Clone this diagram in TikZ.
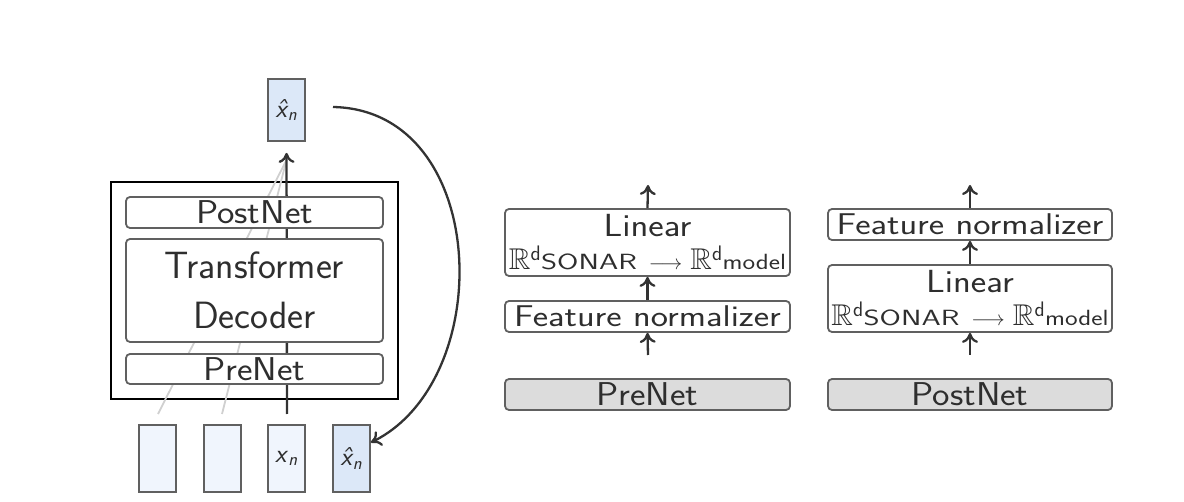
\documentclass[tikz,border=0pt]{standalone}
\usepackage{amssymb}
\usepackage{fontspec}
\usetikzlibrary{arrows.meta}
\renewcommand\familydefault{\sfdefault}
\definecolor{bordergray}{HTML}{606060}
\definecolor{textgray}{HTML}{2E2E2E}
\definecolor{arrowgray}{HTML}{333333}
\definecolor{lightblue}{HTML}{F0F5FD}
\definecolor{midblue}{HTML}{DCE8F8}
\definecolor{graybox}{HTML}{DCDCDC}
\definecolor{ghost}{HTML}{D0D0D0}
\newcommand\fs[1]{\fontsize{#1}{#1}\selectfont}
\newcommand\sx[2]{\scalebox{#1}[1]{#2}}
\newcommand\xhat{\textit{\^x}\textsubscript{\textit{n}}}
\newcommand\rline{\fs{30}$\mathbb{R}^{\mathsf{d}}$\fs{22}\sx{1.4}{SONAR}\hspace*{12pt}\fs{20}$\longrightarrow$\hspace*{8pt}\fs{30}$\mathbb{R}^{\mathsf{d}}$\fs{22}\sx{1.22}{model}}
\tikzset{
  box/.style={draw=bordergray, line width=1.8pt, rounded corners=4pt, fill=white, text=textgray, inner sep=0pt},
  gbox/.style={box, fill=graybox},
  vec/.style={draw=bordergray, line width=1.8pt, inner sep=0pt, minimum width=37pt, minimum height=67pt, text=textgray, font=\fs{26}},
  arr/.style={draw=arrowgray, line width=2.3pt, -{To[length=10pt,width=16pt]}},
  ghostline/.style={draw=ghost, line width=1.8pt},
}
\begin{document}
\begin{tikzpicture}[x=1pt,y=-1pt]
\useasboundingbox (0,0) rectangle (1184,502);
% ---- left: decoder ----
\node[draw=black, line width=1.8pt, minimum width=287pt, minimum height=217pt, inner sep=0pt] (outer) at (254.5,290.5) {};
\node[vec, fill=midblue, minimum height=62pt] (top) at (286.5,110) {\xhat};
\node[vec, fill=lightblue] (b1) at (157.5,458.5) {};
\node[vec, fill=lightblue] (b2) at (222.5,458.5) {};
\node[vec, fill=lightblue] (b3) at (286.5,458.5) {\textit{x}\textsubscript{\textit{n}}};
\node[vec, fill=midblue] (b4) at (351.5,458.5) {\xhat};
\coordinate (s0) at (158,414);
\coordinate (s1) at (222,414);
\coordinate (s2) at (287,414);
\coordinate (c0) at (333,107);
\draw[ghostline] (s0) -- ([yshift=-18pt]top.south);
\draw[ghostline] (s1) -- ([yshift=-18pt]top.south);
\draw[arr, shorten >=11pt] (s2) -- (top.south);
\node[box, minimum width=257pt, minimum height=31pt, font=\fs{33}] (postnet) at (254.5,212.5) {\sx{1.12}{PostNet}};
\node[box, minimum width=257pt, minimum height=103pt, font=\fontsize{38}{50}\selectfont, align=center] (trans) at (254.5,290.5) {Transformer\\Decoder};
\node[box, minimum width=257pt, minimum height=30pt, font=\fs{33}] (prenet) at (254.5,369) {\sx{1.12}{PreNet}};
\draw[arr] (c0) .. controls (490,110) and (498,380) .. ([yshift=16pt]b4.east);
% ---- middle: PreNet detail ----
\node[box, minimum width=285pt, minimum height=67pt, font=\fontsize{32}{33}\selectfont, align=center] (lin1) at (647.5,242.5) {\sx{1.15}{Linear}\\\rline};
\node[box, minimum width=285pt, minimum height=31pt, font=\fs{30}] (fn1) at (647.5,316.5) {\sx{1.22}{Feature normalizer}};
\node[gbox, minimum width=285pt, minimum height=31pt, font=\fs{33}] (pre) at (647.5,394.5) {\sx{1.12}{PreNet}};
\coordinate (o1) at (648,185);
\coordinate (i1) at (648,355);
\draw[arr] (lin1.north) -- (o1);
\draw[arr] (fn1.north) -- (lin1.south);
\draw[arr] (i1) -- (fn1.south);
% ---- right: PostNet detail ----
\node[box, minimum width=284pt, minimum height=31pt, font=\fs{30}] (fn2) at (970,224.5) {\sx{1.22}{Feature normalizer}};
\node[box, minimum width=284pt, minimum height=67pt, font=\fontsize{32}{33}\selectfont, align=center] (lin2) at (970,298.5) {\sx{1.15}{Linear}\\\rline};
\node[gbox, minimum width=284pt, minimum height=31pt, font=\fs{33}] (post) at (970,394.5) {\sx{1.12}{PostNet}};
\coordinate (o2) at (970,185);
\coordinate (i2) at (970,355);
\draw[arr] (fn2.north) -- (o2);
\draw[arr] (lin2.north) -- (fn2.south);
\draw[arr] (i2) -- (lin2.south);
\end{tikzpicture}
\end{document}
